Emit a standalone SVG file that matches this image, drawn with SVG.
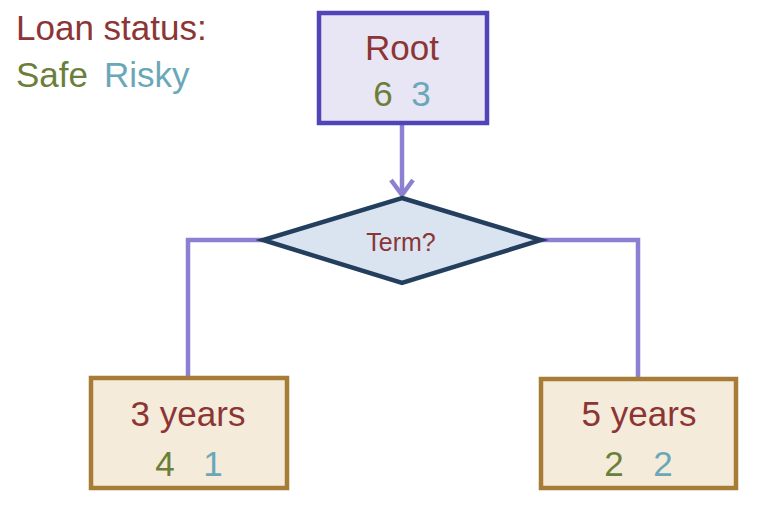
<svg xmlns="http://www.w3.org/2000/svg" width="768" height="512" viewBox="0 0 768 512">
<defs>
<style>
text{font-family:"Liberation Sans","Noto Sans",sans-serif}
.t{fill:#8B3535}
.g{fill:#6B7F3A}
.b{fill:#6AA7B8}
.big{font-size:35px}
.conn{fill:none;stroke:#8C80D2;stroke-width:4.5}
.leaf{fill:#F5EBDA;stroke:#A67C37;stroke-width:4.5}
</style>
</defs>
<rect width="768" height="512" fill="#FFFFFF"/>
<g id="legend">
<text x="16" y="40" class="t big">Loan status:</text>
<text x="16" y="87" class="g big">Safe</text>
<text x="104" y="87" class="b big">Risky</text>
</g>
<g id="connectors">
<line x1="402" y1="123" x2="402" y2="195" class="conn"/>
<polyline points="391,180 402,195 413,180" class="conn" stroke-linejoin="miter"/>
<polyline points="263,240 188,240 188,378" class="conn"/>
<polyline points="541,240 638,240 638,378" class="conn"/>
</g>
<g id="root">
<rect x="319" y="13" width="168" height="110" fill="#E8E5F4" stroke="#4F45B9" stroke-width="4.5"/>
<text x="402" y="60" text-anchor="middle" class="t big">Root</text>
<text x="383" y="106" text-anchor="middle" class="g big">6</text>
<text x="421" y="106" text-anchor="middle" class="b big">3</text>
</g>
<g id="term">
<polygon points="402,198 541,240 402,283 263,240" fill="#DAE3F0" stroke="#243F5E" stroke-width="4.5" stroke-linejoin="miter"/>
<text x="401" y="251" text-anchor="middle" class="t" font-size="25">Term?</text>
</g>
<g id="three-years">
<rect x="91" y="378" width="196" height="110" class="leaf"/>
<text x="188" y="426" text-anchor="middle" class="t big">3 years</text>
<text x="165" y="476" text-anchor="middle" class="g big">4</text>
<text x="213" y="476" text-anchor="middle" class="b big">1</text>
</g>
<g id="five-years">
<rect x="541" y="379" width="195" height="109" class="leaf"/>
<text x="639" y="426" text-anchor="middle" class="t big">5 years</text>
<text x="614" y="476" text-anchor="middle" class="g big">2</text>
<text x="663" y="476" text-anchor="middle" class="b big">2</text>
</g>
</svg>
